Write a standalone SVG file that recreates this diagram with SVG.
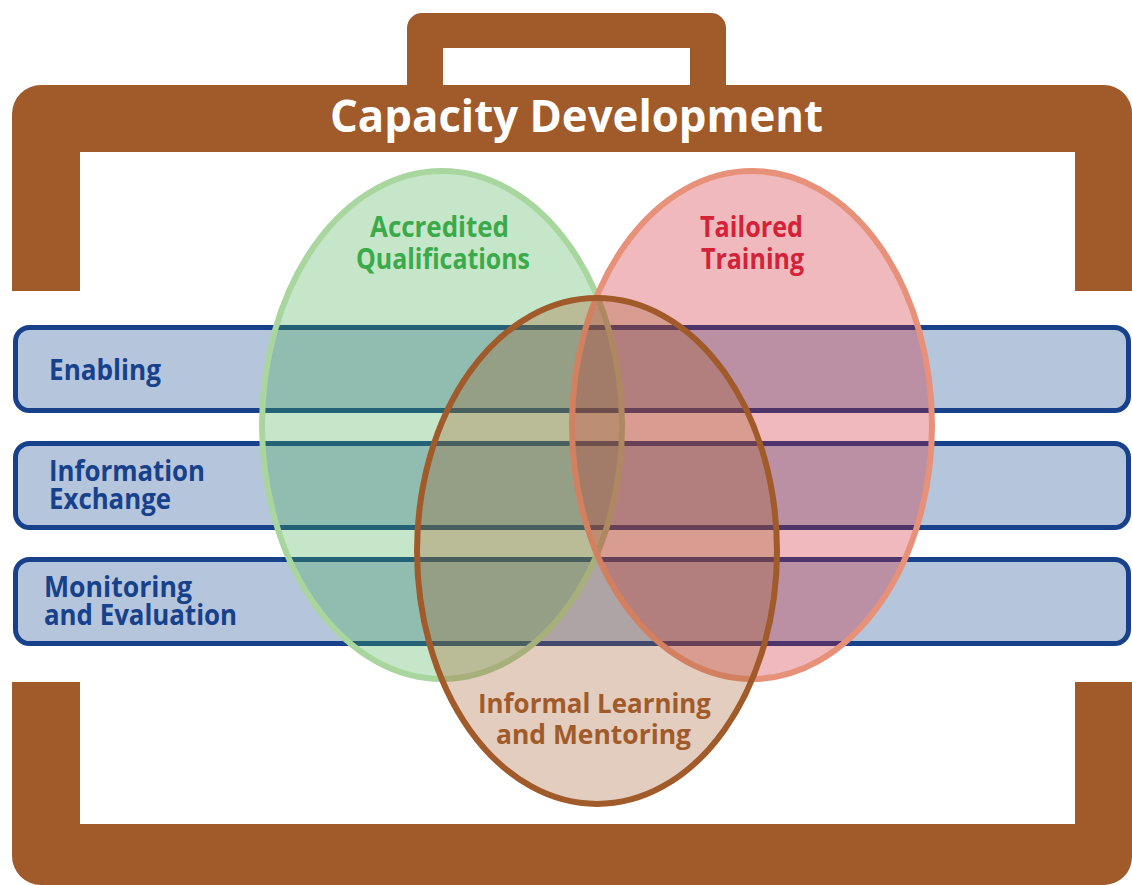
<svg xmlns="http://www.w3.org/2000/svg" width="1132" height="885" viewBox="0 0 1132 885">
<style>
.brown{fill:#A15A29;}
.bar{fill:#B4C5DC;stroke:#17418A;stroke-width:5;}
.t{font-family:"Open Sans","Noto Sans","Liberation Sans",sans-serif;font-weight:bold;}
.bt{fill:#17418A;font-size:28px;}
.el{stroke-width:6;}
</style>
<rect width="1132" height="885" fill="#FFFFFF"/>
<g id="briefcase">
<path class="brown" fill-rule="evenodd" d="M12,114 A29,29 0 0 1 41,85 L407,85 L407,28 A15,15 0 0 1 422,13 L711,13 A15,15 0 0 1 726,28 L726,85 L1104,85 A28,28 0 0 1 1132,113 L1132,291 L1075,291 L1075,152 L80,152 L80,291 L12,291 Z M443,48 L690,48 L690,85 L443,85 Z"/>
<path class="brown" d="M12,682 L80,682 L80,824 L1075,824 L1075,682 L1132,682 L1132,857 A28,28 0 0 1 1104,885 L41,885 A29,29 0 0 1 12,856 Z"/>
<text class="t" x="330" y="132" font-size="44" fill="#FFFFFF" textLength="493" lengthAdjust="spacingAndGlyphs">Capacity Development</text>
</g>
<g id="bar-enabling">
<rect class="bar" x="15.5" y="327.5" width="1113" height="83" rx="14"/>
</g>
<g id="bar-information">
<rect class="bar" x="15.5" y="443.5" width="1113" height="84" rx="14"/>
</g>
<g id="bar-monitoring">
<rect class="bar" x="15.5" y="559.5" width="1113" height="84" rx="14"/>
</g>
<g id="ellipse-accredited">
<ellipse class="el" cx="442" cy="425" rx="180" ry="254" fill="#3EAC48" fill-opacity="0.3" stroke="#A9D69F"/>
</g>
<g id="ellipse-tailored">
<ellipse class="el" cx="752" cy="425" rx="180" ry="254" fill="#CD1626" fill-opacity="0.3" stroke="#E8917A"/>
</g>
<g id="ellipse-informal">
<ellipse class="el" cx="597" cy="551" rx="180" ry="253" fill="#A15A29" fill-opacity="0.3" stroke="#A15A29" stroke-width="5"/>
</g>
<g id="labels">
<text class="t bt" x="49" y="380" textLength="112" lengthAdjust="spacingAndGlyphs">Enabling</text>
<text class="t bt" x="49" y="481" textLength="156" lengthAdjust="spacingAndGlyphs">Information</text>
<text class="t bt" x="49" y="509" textLength="122" lengthAdjust="spacingAndGlyphs">Exchange</text>
<text class="t bt" x="44" y="597" textLength="148" lengthAdjust="spacingAndGlyphs">Monitoring</text>
<text class="t bt" x="44" y="625" textLength="193" lengthAdjust="spacingAndGlyphs">and Evaluation</text>
<text class="t" x="370" y="237" font-size="28" fill="#3BAA4A" textLength="139" lengthAdjust="spacingAndGlyphs">Accredited</text>
<text class="t" x="356" y="269" font-size="28" fill="#3BAA4A" textLength="174" lengthAdjust="spacingAndGlyphs">Qualifications</text>
<text class="t" x="700" y="237" font-size="28" fill="#D42238" textLength="103" lengthAdjust="spacingAndGlyphs">Tailored</text>
<text class="t" x="701" y="269" font-size="28" fill="#D42238" textLength="103" lengthAdjust="spacingAndGlyphs">Training</text>
<text class="t" x="478" y="713" font-size="26" fill="#A15A29" textLength="233" lengthAdjust="spacingAndGlyphs">Informal Learning</text>
<text class="t" x="496" y="744" font-size="26" fill="#A15A29" textLength="195" lengthAdjust="spacingAndGlyphs">and Mentoring</text>
</g>
</svg>
